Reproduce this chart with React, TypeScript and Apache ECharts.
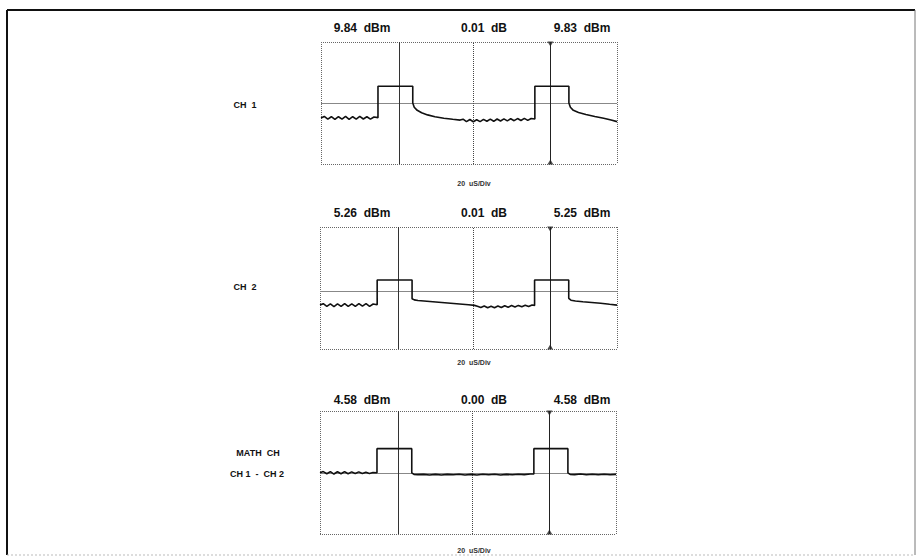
import React, { useEffect, useRef } from "react";
import * as echarts from "echarts";

// Time axis: 10 divisions x 20 uS; vertical axis: 8 divisions (arbitrary units)
const xRange = [0, 200];
const yRange = [0, 8];

const ch1Trace: [number, number][] = [
  [0, 3.02], [2.2, 3.12], [4.6, 2.94], [7, 3.1], [9.4, 2.92], [11.8, 3.1], [14.2, 2.94], [16.6, 3.12], [19, 2.93],
  [21.4, 3.1], [23.8, 2.94], [26.2, 3.12], [28.6, 2.95], [31, 3.1], [33.4, 2.94], [35.8, 3.08], [38.5, 3.04],
  [38.5, 5.1], [62, 5.1], [62, 4.0], [63, 3.72], [65, 3.52], [68, 3.36], [72, 3.22], [77, 3.1], [83, 3.0], [89, 2.93], [94, 2.88],
  [96, 2.94], [98.3, 2.78], [100.6, 2.92], [102.9, 2.77], [105.2, 2.9], [107.5, 2.78], [109.8, 2.93], [112.1, 2.8],
  [114.4, 2.94], [116.7, 2.8], [119, 2.95], [121.3, 2.82], [123.6, 2.96], [125.9, 2.83], [128.2, 2.97], [130.5, 2.84],
  [132.8, 2.98], [135.1, 2.85], [137.4, 2.99], [139.7, 2.86], [142, 2.98], [144.5, 2.95],
  [144.5, 5.1], [167.5, 5.1], [167.5, 4.0], [168.5, 3.72], [170.5, 3.52], [174, 3.38], [179, 3.25], [185, 3.12],
  [191, 3.0], [196, 2.88], [200, 2.78],
];

const ch2Trace: [number, number][] = [
  [0, 2.88], [2.2, 2.97], [4.6, 2.8], [7, 2.96], [9.4, 2.78], [11.8, 2.96], [14.2, 2.8], [16.6, 2.98], [19, 2.8],
  [21.4, 2.96], [23.8, 2.8], [26.2, 2.98], [28.6, 2.81], [31, 2.97], [33.4, 2.8], [35.8, 2.95], [38.5, 2.9],
  [38.5, 4.52], [62, 4.52], [62, 3.3], [63.5, 3.22], [66, 3.18], [70, 3.15], [76, 3.1], [82, 3.05], [88, 3.0], [94, 2.95],
  [100, 2.9], [104, 2.86],
  [106, 2.8], [108.3, 2.72], [110.6, 2.82], [112.9, 2.7], [115.2, 2.8], [117.5, 2.7], [119.8, 2.82], [122.1, 2.72],
  [124.4, 2.84], [126.7, 2.74], [129, 2.85], [131.3, 2.76], [133.6, 2.86], [135.9, 2.77], [138.2, 2.87], [140.5, 2.78],
  [142.8, 2.88], [144.5, 2.86],
  [144.5, 4.52], [167.5, 4.52], [167.5, 3.32], [169, 3.2], [172, 3.15], [177, 3.1], [183, 3.05], [189, 3.0],
  [195, 2.93], [200, 2.88],
];

const mathTrace: [number, number][] = [
  [0, 3.98], [2.2, 4.06], [4.6, 3.92], [7, 4.06], [9.4, 3.9], [11.8, 4.05], [14.2, 3.92], [16.6, 4.06], [19, 3.92],
  [21.4, 4.04], [23.8, 3.93], [26.2, 4.04], [28.6, 3.94], [31, 4.02], [33.4, 3.94], [35.8, 4.0], [38.5, 3.98],
  [38.5, 5.55], [62, 5.55], [62, 3.98], [63.5, 3.88], [66, 3.86], [70, 3.88], [74, 3.84], [78, 3.88], [82, 3.84],
  [86, 3.88], [90, 3.85], [94, 3.89], [98, 3.84], [102, 3.88], [106, 3.84], [110, 3.89], [114, 3.85], [118, 3.89],
  [122, 3.84], [126, 3.88], [130, 3.85], [134, 3.89], [138, 3.86], [142, 3.9], [144.5, 3.9],
  [144.5, 5.55], [167.5, 5.55], [167.5, 3.98], [169, 3.88], [172, 3.86], [176, 3.9], [180, 3.85], [184, 3.89],
  [188, 3.85], [192, 3.89], [196, 3.85], [200, 3.88],
];

const traces = [ch1Trace, ch2Trace, mathTrace];
const refLevels = [4.0, 3.8, 3.94];
const cursorX = [53, 103, 155];

const headerLeft = ["9.84  dBm", "5.26  dBm", "4.58  dBm"];
const headerMid = ["0.01  dB", "0.01  dB", "0.00  dB"];
const headerRight = ["9.83  dBm", "5.25  dBm", "4.58  dBm"];
const timebase = "20  uS/Div";
const channelLabels = [["CH  1"], ["CH  2"], ["MATH  CH", "CH 1  -  CH 2"]];

// layout (pixels)
const grids = [
  { left: 321, top: 42, width: 296, height: 122 },
  { left: 320, top: 227, width: 297, height: 122 },
  { left: 320, top: 411, width: 296, height: 123 },
];
const headerY = [28, 213, 400];
const headerX = [362, 484, 582];
const divY = [183, 362, 550];
const chanLabelPos = [
  [[245, 105]],
  [[245, 287]],
  [[258, 453], [257, 474]],
];

const FONT = '"Liberation Sans", Arial, sans-serif';

export default function App() {
  const ref = useRef<HTMLDivElement>(null);
  useEffect(() => {
    if (!ref.current) return;
    const chart = echarts.init(ref.current, null, { renderer: "svg" });

    const xAxis = grids.map((_, i) => ({
      type: "value",
      gridIndex: i,
      min: xRange[0],
      max: xRange[1],
      interval: 200,
      axisLine: { show: false },
      axisTick: { show: false },
      axisLabel: { show: false },
      splitLine: { show: true, lineStyle: { color: "#666", type: "dotted", width: 1 } },
    }));
    const yAxis = grids.map((_, i) => ({
      type: "value",
      gridIndex: i,
      min: yRange[0],
      max: yRange[1],
      interval: 8,
      axisLine: { show: false },
      axisTick: { show: false },
      axisLabel: { show: false },
      splitLine: { show: true, lineStyle: { color: "#666", type: "dotted", width: 1 } },
    }));

    const series: any[] = [];
    traces.forEach((tr, i) => {
      series.push({
        type: "line",
        xAxisIndex: i,
        yAxisIndex: i,
        data: tr,
        showSymbol: false,
        symbol: "none",
        z: 5,
        lineStyle: { color: "#111", width: 1.6 },
        markLine: {
          silent: true,
          symbol: "none",
          label: { show: false },
          data: [
            { yAxis: refLevels[i], lineStyle: { color: "#888", width: 1, type: "solid" } },
            { xAxis: cursorX[0], lineStyle: { color: "#333", width: 1, type: "solid" } },
            { xAxis: cursorX[1], lineStyle: { color: "#444", width: 1, type: "dotted" } },
            { xAxis: cursorX[2], lineStyle: { color: "#222", width: 1, type: "solid" } },
          ],
        },
      });
      series.push({
        type: "scatter",
        xAxisIndex: i,
        yAxisIndex: i,
        symbol: "triangle",
        symbolSize: [6, 5],
        silent: true,
        itemStyle: { color: "#222" },
        data: [
          { value: [cursorX[2], yRange[1]], symbolRotate: 180, symbolOffset: [0, 2] },
          { value: [cursorX[2], yRange[0]], symbolRotate: 0, symbolOffset: [0, -2] },
        ],
      });
    });

    const txt = (x: number, y: number, text: string, font: string, fill = "#111") => ({
      type: "text",
      x,
      y,
      silent: true,
      style: {
        text,
        font,
        fill,
        align: "center",
        verticalAlign: "middle",
        textAlign: "center",
        textVerticalAlign: "middle",
      },
    });

    const graphic: any[] = [
      { type: "line", silent: true, shape: { x1: 7, y1: 10, x2: 915, y2: 10 }, style: { stroke: "#111", lineWidth: 2 } },
      { type: "line", silent: true, shape: { x1: 7, y1: 10, x2: 7, y2: 555 }, style: { stroke: "#111", lineWidth: 2 } },
      { type: "line", silent: true, shape: { x1: 915, y1: 10, x2: 915, y2: 555 }, style: { stroke: "#777", lineWidth: 1 } },
      { type: "line", silent: true, shape: { x1: 7, y1: 555, x2: 915, y2: 555 }, style: { stroke: "#bbb", lineWidth: 1, lineDash: [2, 2] } },
    ];
    for (let i = 0; i < 3; i++) {
      graphic.push(txt(headerX[0], headerY[i], headerLeft[i], `bold 12px ${FONT}`));
      graphic.push(txt(headerX[1], headerY[i], headerMid[i], `bold 12px ${FONT}`));
      graphic.push(txt(headerX[2], headerY[i], headerRight[i], `bold 12px ${FONT}`));
      graphic.push(txt(474, divY[i], timebase, `bold 7px ${FONT}`, "#333"));
      channelLabels[i].forEach((lab, j) => {
        const [lx, ly] = chanLabelPos[i][j];
        graphic.push(txt(lx, ly, lab, `bold 9px ${FONT}`));
      });
    }

    chart.setOption({
      animation: false,
      backgroundColor: "#fff",
      grid: grids.map((g) => ({ ...g, containLabel: false })),
      xAxis,
      yAxis,
      series,
      graphic,
    });
    return () => chart.dispose();
  }, []);
  return (
    <div
      ref={ref}
      style={{ position: "fixed", left: 0, top: 0, width: 923, height: 557, background: "#fff" }}
    />
  );
}
